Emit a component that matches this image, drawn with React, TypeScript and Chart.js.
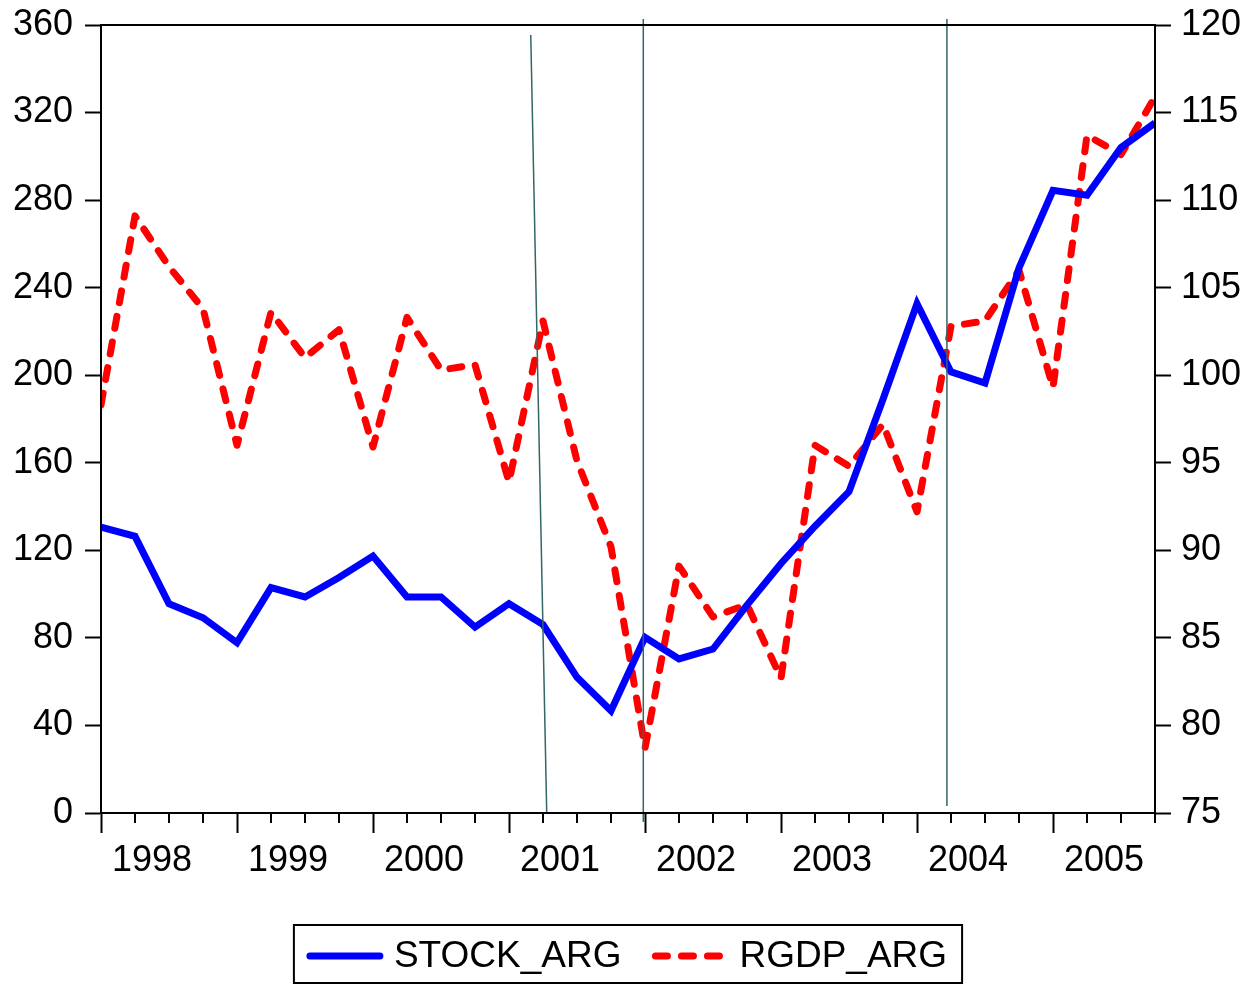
import React, { useEffect, useRef } from "react";
import { Chart, registerables } from "chart.js";

Chart.register(...registerables);

const years = ["1998", "1999", "2000", "2001", "2002", "2003", "2004", "2005"];
const quarters = years.flatMap((y) => ["Q1", "Q2", "Q3", "Q4"].map((q) => y + q));

const stockArg = [
  130.6, 126.4, 95.6, 89.2, 77.8, 103, 98.7, 107.6,
  117.4, 98.7, 98.7, 84.9, 95.6, 86.1, 62, 46.7,
  80.3, 70.4, 74.9, 95, 114, 131, 146.8, 189,
  232.7, 201.5, 196.4, 249, 284.5, 282.2, 304, 315.3,
];

const rgdpArg = [
  98.3, 109.1, 106.2, 103.8, 96, 103.6, 101, 102.6,
  95.9, 103.3, 100.3, 100.6, 93.9, 103.1, 95.1, 90.2,
  78.7, 89.1, 86.2, 86.9, 82.7, 96, 94.8, 97.2,
  92.2, 102.8, 103.1, 106, 99.3, 113.7, 112.6, 115.9,
];

const leftTicks = [0, 40, 80, 120, 160, 200, 240, 280, 320, 360];
const rightTicks = [75, 80, 85, 90, 95, 100, 105, 110, 115, 120];

// event lines: [x start (quarter index), left-axis value start, x end, left-axis value end]
const eventLines = [
  [12.64, 355.4, 13.11, 0],
  [15.95, 362.7, 15.95, -4.1],
  [24.88, 362.7, 24.88, 3.2],
];

const FONT = '"Liberation Sans", Arial, Helvetica, sans-serif';
const EVENT_COLOR = "#336666";

export default function App() {
  const ref = useRef<HTMLCanvasElement | null>(null);

  useEffect(() => {
    document.body.style.margin = "0";
    const canvas = ref.current;
    if (!canvas) return;

    const n = quarters.length;
    const xTickValues: number[] = [];
    for (let i = 0; i < years.length; i++) {
      xTickValues.push(i * 4);
      xTickValues.push(i * 4 + 1.5);
    }

    const framePlugin = {
      id: "frameAndExtras",
      afterDatasetsDraw(chart: any) {
        const { ctx, scales } = chart;
        const x = scales.x;
        const y = scales.y;
        ctx.save();
        ctx.strokeStyle = EVENT_COLOR;
        ctx.lineWidth = 1.5;
        for (const [x1, y1, x2, y2] of eventLines) {
          ctx.beginPath();
          ctx.moveTo(x.getPixelForValue(x1), y.getPixelForValue(y1));
          ctx.lineTo(x.getPixelForValue(x2), y.getPixelForValue(y2));
          ctx.stroke();
        }
        ctx.restore();
      },
      afterDraw(chart: any) {
        const { ctx, chartArea, scales } = chart;
        const x = scales.x;
        ctx.save();
        ctx.strokeStyle = "#000";
        ctx.lineWidth = 2;
        ctx.strokeRect(chartArea.left, chartArea.top, chartArea.right - chartArea.left, chartArea.bottom - chartArea.top);
        for (let i = 0; i < n; i++) {
          if (i % 4 === 0) continue;
          const px = Math.round(x.getPixelForValue(i));
          ctx.beginPath();
          ctx.moveTo(px, chartArea.bottom);
          ctx.lineTo(px, chartArea.bottom + 10);
          ctx.stroke();
        }

        // legend
        const items = chart.data.datasets.map((d: any) => ({
          label: d.label,
          color: d.borderColor,
          dash: d.borderDash || [],
          width: d.borderWidth,
        }));
        ctx.font = `37px ${FONT}`;
        const sampleW = 76;
        const gapSample = 11;
        const gapItems = 31;
        const padL = 13;
        const padR = 15;
        const widths = items.map((it: any) => ctx.measureText(it.label).width);
        let total = padL + padR;
        items.forEach((it: any, i: number) => {
          total += sampleW + gapSample + widths[i];
          if (i < items.length - 1) total += gapItems;
        });
        const cx = (chartArea.left + chartArea.right) / 2;
        const boxLeft = cx - total / 2;
        const boxTop = 925;
        const boxH = 58;
        ctx.lineWidth = 2;
        ctx.strokeStyle = "#000";
        ctx.strokeRect(boxLeft, boxTop, total, boxH);
        let cur = boxLeft + padL;
        const lineY = boxTop + 31;
        items.forEach((it: any, i: number) => {
          ctx.beginPath();
          ctx.lineWidth = it.width;
          ctx.lineCap = "round";
          ctx.strokeStyle = it.color;
          ctx.setLineDash(it.dash);
          ctx.moveTo(cur + 3, lineY);
          ctx.lineTo(cur + sampleW - 3, lineY);
          ctx.stroke();
          ctx.setLineDash([]);
          cur += sampleW + gapSample;
          ctx.fillStyle = "#000";
          ctx.textAlign = "left";
          ctx.textBaseline = "alphabetic";
          ctx.fillText(it.label, cur, boxTop + 42);
          cur += widths[i] + gapItems;
        });
        ctx.restore();
      },
    };

    const chart = new Chart(canvas, {
      type: "line",
      data: {
        datasets: [
          {
            label: "STOCK_ARG",
            data: stockArg.map((v, i) => ({ x: i, y: v })),
            borderColor: "#0000ff",
            borderWidth: 7,
            pointRadius: 0,
            fill: false,
            tension: 0,
            yAxisID: "y",
            borderJoinStyle: "miter",
          },
          {
            label: "RGDP_ARG",
            data: rgdpArg.map((v, i) => ({ x: i, y: v })),
            borderColor: "#ff0000",
            borderWidth: 7,
            borderDash: [12, 14],
            borderCapStyle: "round",
            borderJoinStyle: "round",
            pointRadius: 0,
            fill: false,
            tension: 0,
            yAxisID: "y1",
          },
        ],
      },
      options: {
        animation: false,
        responsive: false,
        devicePixelRatio: 1,
        events: [],
        layout: { padding: { top: 25, left: 0, right: 0, bottom: 0 } },
        plugins: {
          legend: { display: false },
          tooltip: { enabled: false },
          title: { display: false },
        },
        scales: {
          x: {
            type: "linear",
            min: 0,
            max: n - 1,
            offset: false,
            afterBuildTicks(scale: any) {
              scale.ticks = xTickValues.map((v) => ({ value: v }));
            },
            afterFit(scale: any) {
              scale.height = 986 - 813;
              scale.paddingLeft = 0;
              scale.paddingRight = 0;
            },
            grid: {
              drawOnChartArea: false,
              drawTicks: true,
              tickLength: 20,
              tickWidth: 2,
              tickColor: (ctx: any) =>
                ctx.tick && ctx.tick.value % 4 === 0 ? "#000" : "rgba(0,0,0,0)",
            },
            border: { display: true, color: "#000", width: 2 },
            ticks: {
              autoSkip: false,
              maxRotation: 0,
              minRotation: 0,
              padding: 6,
              color: "#000",
              font: { family: FONT, size: 36 },
              callback: (value: any) => {
                const v = Number(value);
                if (Math.abs((v % 4) - 1.5) < 1e-6) return years[Math.floor(v / 4)];
                return "";
              },
            },
          },
          y: {
            type: "linear",
            position: "left",
            min: leftTicks[0],
            max: leftTicks[leftTicks.length - 1],
            afterBuildTicks(scale: any) {
              scale.ticks = leftTicks.map((v) => ({ value: v }));
            },
            afterFit(scale: any) {
              scale.width = 101;
              scale.paddingTop = 0;
              scale.paddingBottom = 0;
            },
            grid: {
              drawOnChartArea: false,
              tickLength: 16,
              tickWidth: 2,
              tickColor: "#000",
            },
            border: { display: true, color: "#000", width: 2 },
            ticks: {
              padding: 12,
              color: "#000",
              font: { family: FONT, size: 36 },
            },
          },
          y1: {
            type: "linear",
            position: "right",
            min: rightTicks[0],
            max: rightTicks[rightTicks.length - 1],
            afterBuildTicks(scale: any) {
              scale.ticks = rightTicks.map((v) => ({ value: v }));
            },
            afterFit(scale: any) {
              scale.width = 1247 - 1155;
              scale.paddingTop = 0;
              scale.paddingBottom = 0;
            },
            grid: {
              drawOnChartArea: false,
              tickLength: 16,
              tickWidth: 2,
              tickColor: "#000",
            },
            border: { display: true, color: "#000", width: 2 },
            ticks: {
              padding: 10,
              color: "#000",
              font: { family: FONT, size: 36 },
            },
          },
        },
      },
      plugins: [framePlugin],
    } as any);

    return () => chart.destroy();
  }, []);

  return (
    <div style={{ width: 1247, height: 986, background: "#fff" }}>
      <canvas ref={ref} width={1247} height={986} style={{ display: "block" }} />
    </div>
  );
}
